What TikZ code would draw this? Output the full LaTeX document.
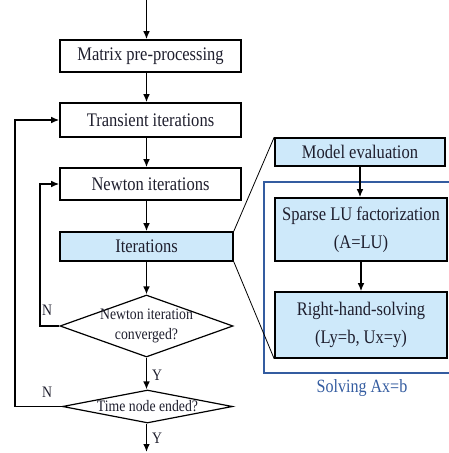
\documentclass[tikz,border=0pt]{standalone}
\usepackage{fontspec}
\setmainfont{Liberation Serif}[FakeStretch=0.86]
\usetikzlibrary{arrows.meta,shapes.geometric}
\definecolor{boxfill}{RGB}{206,233,250}
\definecolor{frameblue}{RGB}{52,92,160}
\definecolor{inkdark}{RGB}{30,30,45}

\tikzset{every picture/.style={line width=0.75pt}}
\tikzset{
  procbox/.style={draw, line width=1.2pt, inner sep=0pt, align=center, text=inkdark, font=\fontsize{14.4}{21}\selectfont},
  bluebox/.style={procbox, fill=boxfill},
  decision/.style={draw, diamond, inner sep=0pt, line width=0.9pt},
  dectext/.style={align=center, inner sep=0pt, text=inkdark, font=\fontsize{12}{15}\selectfont},
  flow/.style={line width=1pt, -{Latex[length=6pt,width=5pt]}},
  zoomline/.style={line width=0.6pt},
  yn/.style={inner sep=0pt, text=inkdark, font=\fontsize{12}{13}\selectfont}
}

\begin{document}
\begin{tikzpicture}[x=0.75pt,y=0.75pt,yscale=-1,xscale=1]
\useasboundingbox (0,0) rectangle (449,453);

% Main column
\node [procbox, minimum width=135.75pt, minimum height=24pt] (matrix) at (150.5,56) {Matrix pre-processing};
\node [procbox, minimum width=135.75pt, minimum height=25.5pt] (trans) at (150.5,120) {Transient iterations};
\node [procbox, minimum width=135.75pt, minimum height=24pt] (newton) at (150.5,184) {Newton iterations};
\node [bluebox, minimum width=129.75pt, minimum height=21.75pt] (iter) at (146.5,246.5) {Iterations};

% Decisions
\node [decision, minimum width=129.75pt, minimum height=46.5pt] (dec1) at (146.5,326) {};
\node [dectext] (dec1txt) at (dec1.center) {Newton iteration\\converged?};
\node [decision, minimum width=127.5pt, minimum height=24.75pt] (dec2) at (147.5,406.5) {};
\node [dectext] (dec2txt) at (dec2.center) {Time node ended?};

% Detail of the iterations
\node [bluebox, minimum width=127.5pt, minimum height=21pt] (model) at (360,152) {Model evaluation};
\node [bluebox, minimum width=129pt, minimum height=47.25pt] (sparse) at (361,229.5) {Sparse LU factorization\\(A=LU)};
\node [bluebox, minimum width=129pt, minimum height=49.5pt] (solve) at (361,325) {Right-hand-solving\\(Ly=b, Ux=y)};

% Frame of the solver
\draw [frameblue, line width=1pt] (452,182) -- (264,182) -- (264,373) -- (452,373);
\node [text=frameblue, font=\fontsize{14}{15}\selectfont, inner sep=0pt] (solvlbl) at (362,388) {Solving Ax=b};

% Coordinates
\coordinate (top) at (146.5,0);
\coordinate (bottom) at (146.5,452);
\coordinate (loopin) at (40,0);
\coordinate (loopout) at (15,0);

% Straight Lines
\draw [flow] (top) -- (top |- matrix.north);
\draw [flow] (matrix.south -| top) -- (trans.north -| top);
\draw [flow] (trans.south -| top) -- (newton.north -| top);
\draw [flow] (newton.south -| top) -- (iter.north);
\draw [flow] (iter.south) -- (dec1.north);
\draw [flow] (dec1.south) -- (dec1.south |- dec2.north);
\draw [flow] (dec2.south -| top) -- (bottom);
\draw [flow] (model.south) -- (model.south |- sparse.north);
\draw [flow] (sparse.south) -- (sparse.south |- solve.north);

% Loops back
\draw [flow] (dec1.west) -- (dec1.west -| loopin) |- (newton.west);
\draw [flow] (dec2.west) -- (dec2.west -| loopout) |- (trans.west);

% Zoom lines
\draw [zoomline] (iter.north east) -- (model.north west);
\draw [zoomline] (iter.south east) -- (solve.south west);

% Text Node
\node [yn] (n1) at (47,310) {N};
\node [yn] (n2) at (47,392) {N};
\node [yn] (y1) at (157,375) {Y};
\node [yn] (y2) at (157,438) {Y};

\end{tikzpicture}
\end{document}
